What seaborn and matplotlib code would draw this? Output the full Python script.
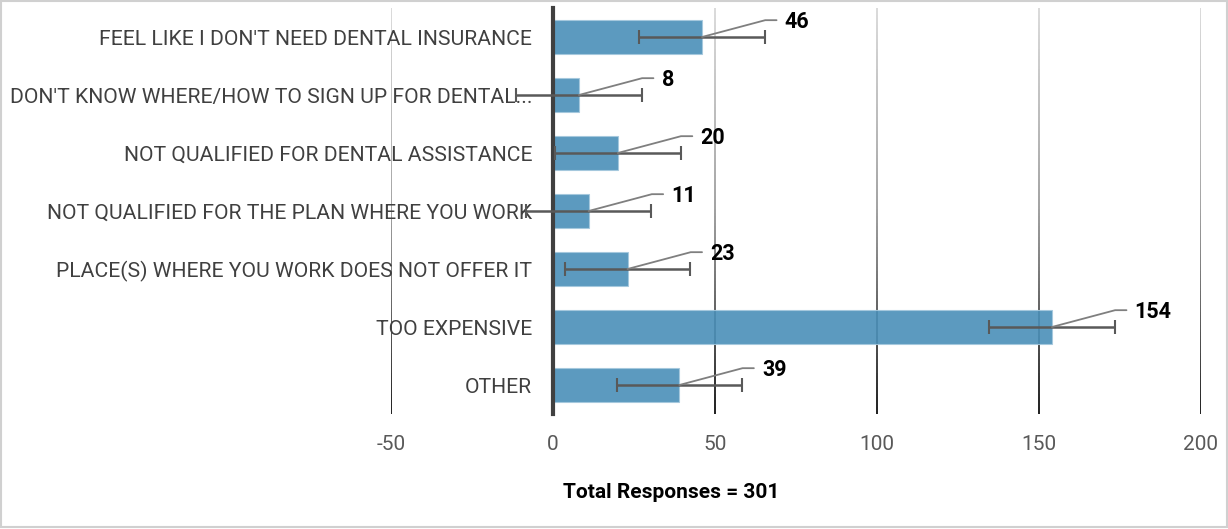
import numpy as np
import pandas as pd
import seaborn as sns
import matplotlib.pyplot as plt
from matplotlib.patches import Rectangle
from matplotlib.collections import LineCollection
from matplotlib.colors import LinearSegmentedColormap

# Data
reasons = [
    "FEEL LIKE I DON'T NEED DENTAL INSURANCE",
    "DON'T KNOW WHERE/HOW TO SIGN UP FOR DENTAL...",
    "NOT QUALIFIED FOR DENTAL ASSISTANCE",
    "NOT QUALIFIED FOR THE PLAN WHERE YOU WORK",
    "PLACE(S) WHERE YOU WORK DOES NOT OFFER IT",
    "TOO EXPENSIVE",
    "OTHER",
]
responses = [46, 8, 20, 11, 23, 154, 39]
errors = [19.4, 19.4, 19.4, 19.4, 19.4, 19.4, 19.4]
x_ticks = [-50, 0, 50, 100, 150, 200]
total_label = "Total Responses = 301"

df = pd.DataFrame({"reason": reasons, "responses": responses})

sns.set_style("white")
plt.rcParams['font.family'] = ['Roboto', 'DejaVu Sans']

fig = plt.figure(figsize=(12.28, 5.29), dpi=100)
ax = fig.add_axes([391 / 1228, 1 - 414 / 529, 810 / 1228, 406 / 529])

sns.barplot(data=df, x="responses", y="reason", orient="h", color="#4A8FB8",
            alpha=0.9, width=0.6, edgecolor="#A5C8DD", linewidth=0.8,
            saturation=1, ax=ax, zorder=2)

# gridlines fade from light grey (top) to almost black (bottom)
n = len(reasons)
ys = np.linspace(-0.5, n - 0.5, 120)
grad = LinearSegmentedColormap.from_list("grad", ["#DADADA", "#A0A0A0", "#1E1E1E"])
for t in x_ticks:
    if t == 0:
        continue
    pts = np.column_stack([np.full_like(ys, t), ys]).reshape(-1, 1, 2)
    segs = np.concatenate([pts[:-1], pts[1:]], axis=1)
    lc = LineCollection(segs, cmap=grad, linewidths=1.4, zorder=0)
    lc.set_array((ys[:-1] + 0.5) / n)
    ax.add_collection(lc)

# error bars
ypos = np.arange(n)
ax.errorbar(responses, ypos, xerr=errors, fmt="none", ecolor="#595959",
            elinewidth=1.8, capsize=4.8, capthick=1.5, zorder=4)

# value labels with leader lines
for y, v in zip(ypos, responses):
    ax.plot([v, v + 19.5, v + 23], [y, y - 0.29, y - 0.29], color="#7F7F7F",
            lw=1.3, zorder=5)
    ax.text(v + 25.5, y - 0.26, str(v), ha="left", va="center",
            fontsize=15.5, fontweight="bold", color="black", zorder=6)

ax.set_xlim(-50, 200)
ax.set_ylim(n - 0.5, -0.5)
ax.set_xticks(x_ticks)
ax.set_xticklabels([str(t) for t in x_ticks])
for s in ax.spines.values():
    s.set_visible(False)
# y axis line sits at zero, labels follow it
ax.spines["left"].set_visible(True)
ax.spines["left"].set_position(("data", 0))
ax.spines["left"].set_color("#404040")
ax.spines["left"].set_linewidth(3)
ax.spines["left"].set_zorder(3)
ax.tick_params(axis="x", length=0, pad=15, labelsize=15, labelcolor="#595959")
ax.tick_params(axis="y", length=0, pad=15, labelsize=15.2, labelcolor="#404040")
ax.set_xlabel("")
ax.set_ylabel("")

fig.text(671 / 1228, 1 - 493 / 529, total_label, ha="center", va="center",
         fontsize=15, fontweight="bold", color="black")

fig.patches.append(Rectangle((0.001, 0.004), 0.998, 0.995, transform=fig.transFigure,
                             fill=False, edgecolor="#D0D0D0", lw=1.5))

fig.savefig("out.png", dpi=100)
